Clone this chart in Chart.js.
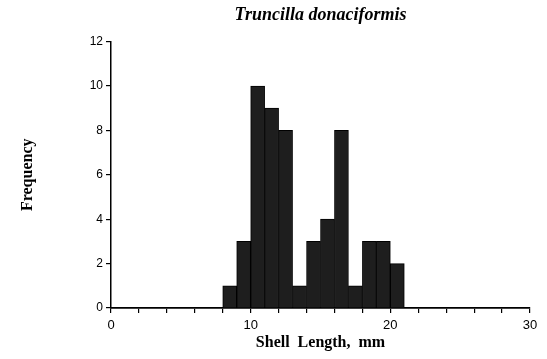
<!DOCTYPE html>
<html>
<head>
<meta charset="utf-8">
<script src="https://cdn.jsdelivr.net/npm/chart.js@4.4.0/dist/chart.umd.min.js"></script>
<style>
  html, body { margin: 0; padding: 0; background: #fff; }
  #wrap { width: 547px; height: 359px; }
</style>
</head>
<body>
<div id="wrap"><canvas id="canvas"></canvas></div>
<script>
// bins are 1 mm wide, given by their left edge
const binStart = [8, 9, 10, 11, 12, 13, 14, 15, 16, 17, 18, 19, 20];
const frequency = [1, 3, 10, 9, 8, 1, 3, 4, 8, 1, 3, 3, 2];
const xTickLabels = [0, 10, 20, 30];
const yTicks = [0, 2, 4, 6, 8, 10, 12];

function handleChart() {
    const points = binStart.map((s, i) => ({ x: s + 0.5, y: frequency[i] }));

    const ctx = document.getElementById('canvas').getContext('2d');
    const myChart = new Chart(ctx, {
        type: 'bar',
        data: {
            datasets: [{
                label: 'Frequency',
                data: points,
                backgroundColor: '#1e1e1e',
                borderColor: '#000',
                borderWidth: 1,
                barPercentage: 1,
                categoryPercentage: 1
            }]
        },
        options: {
            responsive: true,
            maintainAspectRatio: false,
            animation: false,
            layout: { padding: { left: 0, right: 17, top: 0, bottom: 0 } },
            plugins: {
                legend: { display: false },
                tooltip: { enabled: false },
                title: {
                    display: true,
                    fullSize: false,
                    text: 'Truncilla donaciformis',
                    color: '#000',
                    font: { family: 'Liberation Serif', size: 18, style: 'italic' },
                    padding: { top: 5, bottom: 15 }
                }
            },
            scales: {
                x: {
                    type: 'linear',
                    min: 0,
                    max: 30,
                    offset: false,
                    afterFit: axis => { axis.height = 51; },
                    ticks: {
                        stepSize: 2,
                        autoSkip: false,
                        maxRotation: 0,
                        color: '#000',
                        font: { family: 'Liberation Sans', size: 13 },
                        padding: 5,
                        callback: v => xTickLabels.includes(v) ? v : ''
                    },
                    grid: { offset: false, drawOnChartArea: false, drawTicks: true, tickLength: 5, color: '#000', lineWidth: 1.2 },
                    border: { display: true, color: '#000', width: 1.8 },
                    title: {
                        display: true,
                        text: 'Shell  Length,  mm',
                        color: '#000',
                        font: { family: 'Liberation Serif', size: 16, weight: 'bold' },
                        padding: { top: 0, bottom: 7 }
                    }
                },
                y: {
                    min: 0,
                    max: 12,
                    afterFit: axis => { axis.width = 111; },
                    afterBuildTicks: axis => { axis.ticks = yTicks.map(v => ({ value: v })); },
                    ticks: {
                        color: '#000',
                        font: { family: 'Liberation Sans', size: 12 },
                        padding: 3
                    },
                    grid: { drawOnChartArea: false, drawTicks: true, tickLength: 5, color: '#000', lineWidth: 1.2 },
                    border: { display: true, color: '#000', width: 1.5 },
                    title: {
                        display: true,
                        text: 'Frequency',
                        color: '#000',
                        font: { family: 'Liberation Serif', size: 16, weight: 'bold' },
                        padding: { top: 18, bottom: 0 }
                    }
                }
            }
        }
    });
}

handleChart();
</script>
</body>
</html>
